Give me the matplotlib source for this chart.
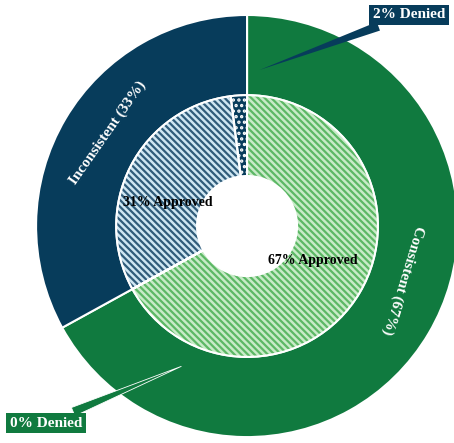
import matplotlib
matplotlib.use("Agg")
import matplotlib.pyplot as plt

plt.rcParams['font.family'] = ['Liberation Serif', 'DejaVu Serif']
plt.rcParams['hatch.linewidth'] = 1.6

# outer ring: consistency of decisions
outer_labels = ["Consistent (67%)", "Inconsistent (33%)"]
outer_values = [67, 33]
outer_colors = ["#107a3f", "#073c5b"]

# inner ring: approved / denied within each group
inner_labels = ["67% Approved", "0% Denied", "31% Approved", "2% Denied"]
inner_values = [67, 0.0001, 31, 2]
inner_faces = ["#c8ebc8", "#107a3f", "#cfe6f2", "#073c5b"]
inner_hatch_colors = ["#5cb865", "#ffffff", "#2f5c7a", "#ffffff"]
inner_hatches = ["\\\\\\\\\\", "", "\\\\\\\\\\", "..."]

fig = plt.figure(figsize=(4.54, 4.43), dpi=100)
ax = fig.add_axes([0, 0, 1, 1])

# outer ring
ax.pie(outer_values, radius=1.0, startangle=90, counterclock=False,
       colors=outer_colors,
       wedgeprops=dict(width=0.38, edgecolor="white", linewidth=1.5))

# inner ring, hatched (hatch takes the edge colour)
wedges, _ = ax.pie(inner_values, radius=0.62, startangle=90, counterclock=False,
                   colors=inner_faces,
                   wedgeprops=dict(width=0.383, linewidth=0))
for w, h, hc in zip(wedges, inner_hatches, inner_hatch_colors):
    w.set_hatch(h)
    w.set_edgecolor(hc)

# white separators on top of the hatched ring
ax.pie(inner_values, radius=0.62, startangle=90, counterclock=False,
       colors=["none"] * 4,
       wedgeprops=dict(width=0.383, edgecolor="white", linewidth=1.5, fill=False))

# ring labels
ax.text(0.74, -0.255, outer_labels[0], rotation=253, rotation_mode="anchor",
        ha="center", va="center", color="white", fontsize=11, fontweight="bold")
ax.text(-0.66, 0.44, outer_labels[1], rotation=55, rotation_mode="anchor",
        ha="center", va="center", color="white", fontsize=11, fontweight="bold")

ax.text(0.31, -0.165, inner_labels[0], ha="center", va="center",
        color="black", fontsize=10, fontweight="bold")
ax.text(-0.375, 0.11, inner_labels[2], ha="center", va="center",
        color="black", fontsize=10, fontweight="bold")

# denied callouts
ax.annotate(inner_labels[3], xy=(0.047, 0.735), xytext=(0.768, 1.0),
            ha="center", va="center", color="white", fontsize=11,
            fontweight="bold",
            bbox=dict(boxstyle="square,pad=0.25", fc=outer_colors[1], ec="none"),
            arrowprops=dict(arrowstyle="wedge,tail_width=0.6",
                            fc=outer_colors[1], ec="none"))
ax.annotate(inner_labels[1], xy=(-0.30, -0.66), xytext=(-0.953, -0.934),
            ha="center", va="center", color="white", fontsize=11,
            fontweight="bold",
            bbox=dict(boxstyle="square,pad=0.25", fc=outer_colors[0], ec="none"),
            arrowprops=dict(arrowstyle="wedge,tail_width=0.6",
                            fc=outer_colors[0], ec="white", lw=0.6))

ax.set_xlim(-1.171, 0.981)
ax.set_ylim(-1.028, 1.071)
ax.set_aspect("auto")
ax.axis("off")

fig.savefig("out.png", dpi=100)
